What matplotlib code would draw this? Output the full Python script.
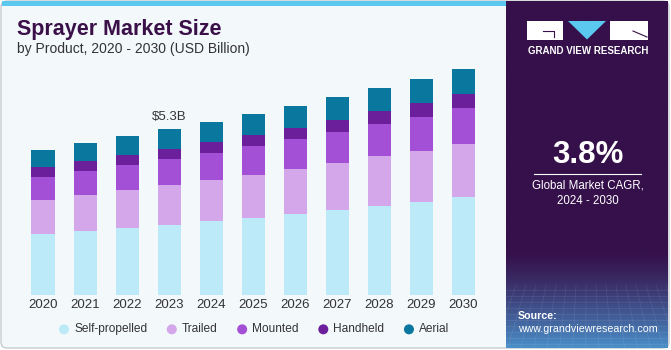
import numpy as np
import matplotlib.pyplot as plt
from matplotlib.patches import FancyBboxPatch, Rectangle, Polygon, Circle

plt.rcParams['font.family'] = ['Liberation Sans', 'DejaVu Sans']

years = ['2020', '2021', '2022', '2023', '2024', '2025', '2026', '2027', '2028', '2029', '2030']
self_propelled = [1.95, 2.05, 2.15, 2.25, 2.37, 2.47, 2.59, 2.73, 2.85, 2.98, 3.13]
trailed = [1.09, 1.14, 1.20, 1.26, 1.31, 1.37, 1.43, 1.49, 1.58, 1.64, 1.71]
mounted = [0.74, 0.78, 0.81, 0.84, 0.86, 0.91, 0.96, 0.99, 1.05, 1.07, 1.13]
handheld = [0.31, 0.31, 0.32, 0.32, 0.35, 0.36, 0.36, 0.40, 0.39, 0.44, 0.45]
aerial = [0.55, 0.59, 0.61, 0.63, 0.65, 0.68, 0.69, 0.72, 0.75, 0.77, 0.80]

series = [('Self-propelled', self_propelled, '#BDEAF9'),
          ('Trailed', trailed, '#D4A7EA'),
          ('Mounted', mounted, '#A34FD6'),
          ('Handheld', handheld, '#6C1F9B'),
          ('Aerial', aerial, '#0A779E')]

fig = plt.figure(figsize=(6.71, 3.5), dpi=100)
fig.patch.set_facecolor('white')

# fond en coordonnees pixel
bg = fig.add_axes([0, 0, 1, 1], zorder=0)
bg.set_xlim(0, 671)
bg.set_ylim(350, 0)
bg.axis('off')
bg.add_patch(FancyBboxPatch((1, 1), 668, 347, boxstyle='round,pad=0,rounding_size=6',
                            facecolor='#F3F8FB', edgecolor='#C8CCD0', lw=1))
bg.add_patch(Rectangle((2, 1), 504, 5, facecolor='#5BC8EF', edgecolor='none'))

# panneau droit avec degrade
n = 200
cols = np.zeros((n, 1, 3))
top = np.array([0x35, 0x10, 0x4A]) / 255
bot = np.array([0x4A, 0x8E, 0xC8]) / 255
for i in range(n):
    t = max(0, (i / (n - 1) - 0.72) / 0.28) ** 1.3
    cols[i, 0] = top * (1 - t) + bot * t
bg.imshow(cols, extent=(506, 668, 348, 1), aspect='auto', zorder=1)
for yy in np.arange(290, 348, 6):
    bg.plot([506, 668], [yy, yy], color='white', alpha=0.08, lw=0.6, zorder=2)
for xx in np.arange(506, 668, 10):
    bg.plot([xx, xx + (xx - 587) * 0.3], [285, 348], color='white', alpha=0.08, lw=0.6, zorder=2)

# logo
bg.add_patch(Rectangle((527, 21), 36, 18.5, facecolor='white', zorder=3))
bg.plot([543, 554, 554], [31, 31, 37], color='#35104A', lw=0.8, zorder=4)
bg.add_patch(Polygon([(568, 21), (606, 21), (587, 39.5)], facecolor='#5BC8EF', zorder=3))
bg.add_patch(Rectangle((610, 21), 38, 18.5, facecolor='white', zorder=3))
bg.plot([633, 647], [31, 37], color='#35104A', lw=0.8, zorder=4)
bg.text(588, 51, 'GRAND VIEW RESEARCH', color='white', fontsize=7, fontweight='bold',
        ha='center', va='center', zorder=4)

bg.text(588, 155, '3.8%', color='white', fontsize=22.5, fontweight='bold', ha='center', va='center', zorder=4)
bg.plot([534, 641], [173.5, 173.5], color='white', lw=0.8, zorder=4)
bg.text(588, 186, 'Global Market CAGR,', color='white', fontsize=8.3, ha='center', va='center', zorder=4)
bg.text(588, 201, '2024 - 2030', color='white', fontsize=8.3, ha='center', va='center', zorder=4)
bg.text(518, 316, 'Source:', color='white', fontsize=7.7, fontweight='bold', ha='left', va='center', zorder=4)
bg.text(518, 329, 'www.grandviewresearch.com', color='white', fontsize=7.7, ha='left', va='center', zorder=4)

# titres
bg.text(17, 29, 'Sprayer Market Size', color='#3B1049', fontsize=15.5, fontweight='bold',
        ha='left', va='center', zorder=4)
bg.text(17, 49, 'by Product, 2020 - 2030 (USD Billion)', color='#333333', fontsize=10,
        ha='left', va='center', zorder=4)

# graphique
ax = fig.add_axes([11.5 / 671, 55 / 350, (495 - 11.5) / 671, 234.5 / 350], zorder=5)
ax.set_facecolor('none')
x = np.arange(len(years))
bottom = np.zeros(len(years))
for name, vals, c in series:
    ax.bar(x, vals, width=0.55, bottom=bottom, color=c, edgecolor='none', label=name)
    bottom += np.array(vals)

ax.set_xlim(-0.75, 10.75)
ax.set_ylim(0, 7.5)
ax.set_yticks([])
ax.set_xticks(x)
ax.set_xticklabels(years, fontsize=9.5, color='#333333')
ax.tick_params(axis='x', length=0, pad=3)
for s in ax.spines.values():
    s.set_visible(False)

ax.text(3, bottom[3] + 0.2, '$' + '5.3B', ha='center', va='bottom', fontsize=9.5, color='#333333')

leg = ax.legend(loc='upper center', bbox_to_anchor=(0.5, -0.075), ncol=5, frameon=False,
                handlelength=0.8, handletextpad=0.6, columnspacing=1.5, fontsize=8.6)
for h in leg.legend_handles:
    h.set_visible(False)
for t in leg.get_texts():
    t.set_color('#333333')

fig.canvas.draw()
# pastilles rondes de la legende
for (name, vals, c), t in zip(series, leg.get_texts()):
    bb = t.get_window_extent()
    px = bb.x0 - 10
    py = (bb.y0 + bb.y1) / 2
    bx, by = bg.transData.inverted().transform((px, py))
    bg.add_patch(Circle((bx, by), 5, facecolor=c, edgecolor='none', zorder=4))

fig.savefig('out.png', dpi=100)
